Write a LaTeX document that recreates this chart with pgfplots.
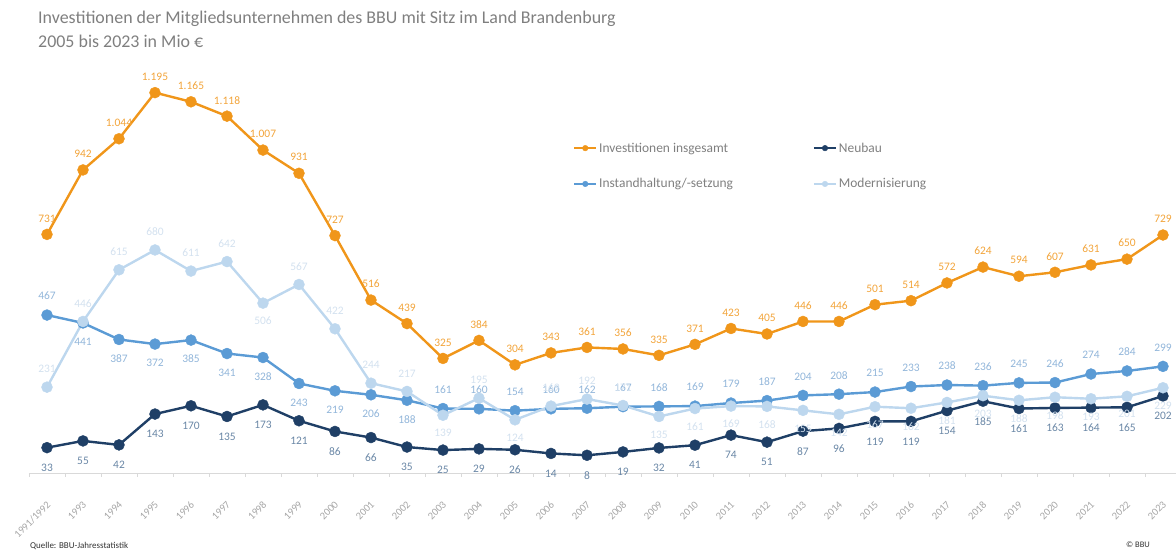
\documentclass[border=0pt]{standalone}
\usepackage{pgfplots}
\pgfplotsset{compat=1.18}
\usepackage{pgfplotstable}
\usepackage{fontspec}
\setmainfont{Carlito}
\definecolor{cinv}{HTML}{F0961A}
\definecolor{cinvlab}{HTML}{F2A43A}
\definecolor{cneu}{HTML}{1F3F66}
\definecolor{cneulab}{HTML}{6A87A6}
\definecolor{cins}{HTML}{5B9BD5}
\definecolor{cinslab}{HTML}{92B6DA}
\definecolor{cmod}{HTML}{BDD7EE}
\definecolor{cmodlab}{HTML}{D3E1EF}
\definecolor{titlegray}{HTML}{7F7F7F}
\definecolor{tickgray}{HTML}{A6A6A6}
\definecolor{axgray}{HTML}{D9D9D9}
\pgfplotstableread{
x inv neu ins modn pins pmod
0 731 33 467 231 1 1
1 942 55 441 446 -1 1
2 1044 42 387 615 -1 1
3 1195 143 372 680 -1 1
4 1165 170 385 611 -1 1
5 1118 135 341 642 -1 1
6 1007 173 328 506 -1 -1
7 931 121 243 567 -1 1
8 727 86 219 422 -1 1
9 516 66 206 244 -1 1
10 439 35 188 217 -1 1
11 325 25 161 139 1 -1
12 384 29 160 195 1 1
13 304 26 154 124 1 -1
14 343 14 160 169 1 1
15 361 8 162 192 1 1
16 356 19 167 171 1 1
17 335 32 168 135 1 -1
18 371 41 169 161 1 -1
19 423 74 179 169 1 -1
20 405 51 187 168 1 -1
21 446 87 204 155 1 -1
22 446 96 208 142 1 -1
23 501 119 215 167 1 -1
24 514 119 233 162 1 -1
25 572 154 238 181 1 -1
26 624 185 236 203 1 -1
27 594 161 245 188 1 -1
28 607 163 246 198 1 -1
29 631 164 274 193 1 -1
30 650 165 284 201 1 -1
31 729 202 299 229 1 -1
}\datatable
\begin{document}
\begin{tikzpicture}
\path[use as bounding box] (0bp,0bp) rectangle (1176bp,551bp);
\begin{axis}[
  at={(29bp,78bp)}, anchor=south west,
  scale only axis, width=1146.6bp, height=443bp,
  xmin=-0.5, xmax=31.35, ymin=-50, ymax=1400,
  axis x line*=bottom, axis y line=none,
  axis line style={color=axgray, line width=0.8bp},
  xtick={0,...,31},
  xticklabels={1991/1992,1993,1994,1995,1996,1997,1998,1999,2000,2001,2002,2003,2004,2005,2006,2007,2008,2009,2010,2011,2012,2013,2014,2015,2016,2017,2018,2019,2020,2021,2022,2023},
  major tick length=0pt,
  minor xtick={-0.5,0.5,...,30.5},
  minor tick length=4bp,
  tick align=outside,
  tick style={color=axgray, line width=0.8bp},
  xticklabel style={xshift=-1bp, yshift=-26bp, rotate=45, anchor=north east, font=\fontsize{10.5}{11}\selectfont, text=tickgray, inner sep=1bp},
  clip=false,
  /pgf/number format/.cd, fixed, precision=0, 1000 sep={.}, assume math mode=true,
  /pgfplots/.cd,
  every node near coord/.append style={font=\fontsize{11.5}{12}\selectfont, anchor=center, inner sep=0pt},
  legend columns=2,
  legend cell align=left,
  legend style={at={(rel axis cs:0.472,0.755)}, anchor=north west, draw=none, fill=none,
    font=\fontsize{13.5}{15}\selectfont, text=titlegray, row sep=21bp,
    /tikz/every even column/.append style={column sep=78bp}},
  legend image code/.code={\draw[mark repeat=2,mark phase=2,#1,line width=1.8bp,mark size=2.8bp] plot coordinates {(0bp,0bp) (11bp,0bp) (22bp,0bp)};},
]
\addplot[color=cinv, line width=2.4bp, mark=*, mark size=5.5bp, mark options={solid, fill=cinv, draw=cinv, line width=0.4bp},
  nodes near coords, every node near coord/.append style={text=cinvlab, yshift=16bp}]
  table[x=x, y=inv] {\datatable};
\addlegendentry{Investitionen insgesamt}
\addplot[color=cneu, line width=2.4bp, mark=*, mark size=5.5bp, mark options={solid, fill=cneu, draw=cneu, line width=0.4bp},
  nodes near coords, every node near coord/.append style={text=cneulab, yshift=-20bp}]
  table[x=x, y=neu] {\datatable};
\addlegendentry{Neubau}
\addplot[color=cins, line width=2.4bp, mark=*, mark size=5.5bp, mark options={solid, fill=cins, draw=cins, line width=0.4bp},
  visualization depends on={\thisrow{pins} \as \pp},
  nodes near coords, every node near coord/.append style={text=cinslab, yshift=\pp*19bp}]
  table[x=x, y=ins] {\datatable};
\addlegendentry{Instandhaltung/-setzung}
\addplot[color=cmod, line width=2.4bp, mark=*, mark size=5.5bp, mark options={solid, fill=cmod, draw=cmod, line width=0.4bp},
  visualization depends on={\thisrow{pmod} \as \pm},
  nodes near coords, every node near coord/.append style={text=cmodlab, yshift=\pm*18bp}]
  table[x=x, y=modn] {\datatable};
\addlegendentry{Modernisierung}
\end{axis}
\node[anchor=base west, text=titlegray, font=\fontsize{18}{21}\selectfont, inner sep=0pt] at (38bp,527bp) {Investitionen der Mitgliedsunternehmen des BBU mit Sitz im Land Brandenburg};
\node[anchor=base west, text=titlegray, font=\fontsize{18}{21}\selectfont, inner sep=0pt] at (38bp,503bp) {2005 bis 2023 in Mio €};
\node[anchor=base west, font=\fontsize{9}{10}\selectfont, text=black!80, inner sep=0pt] at (30bp,3bp) {Quelle: BBU-Jahresstatistik};
\node[anchor=base east, font=\fontsize{8.5}{9}\selectfont, text=black!80, inner sep=0pt] at (1150bp,4bp) {© BBU};
\end{tikzpicture}
\end{document}
